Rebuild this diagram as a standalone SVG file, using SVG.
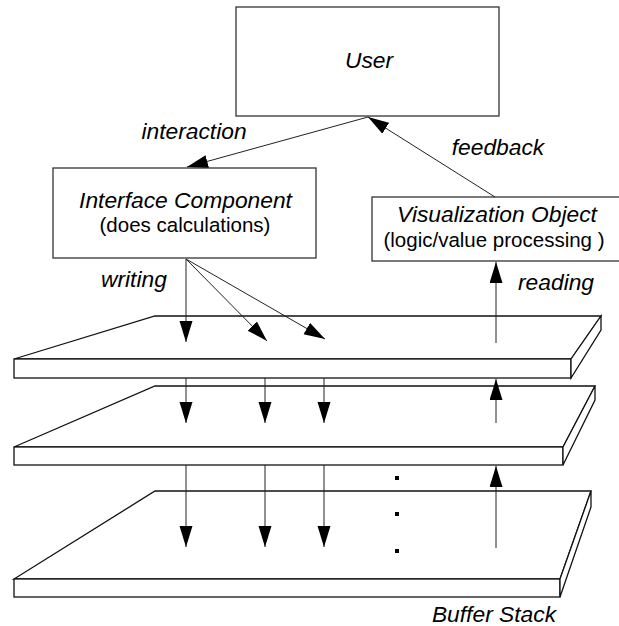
<svg xmlns="http://www.w3.org/2000/svg" width="619" height="626" viewBox="0 0 619 626">
<style>
.box{fill:#fff;stroke:#333;stroke-width:1.3}
.plate{fill:#fff;stroke:#111;stroke-width:1.3;stroke-linejoin:miter}
.t{font-family:"Liberation Sans",Arial,sans-serif;fill:#000}
.it{font-style:italic;font-size:22.8px}
.rg{font-size:20.5px}
.c{stroke:#222;stroke-width:1;fill:none}
</style>
<defs>
<marker id="ah" markerUnits="userSpaceOnUse" markerWidth="22" markerHeight="14" refX="21" refY="6.5" orient="auto">
<path d="M0,0 L21,6.5 L0,13 z" fill="#000"/>
</marker>
</defs>
<rect width="619" height="626" fill="#fff"/>
<g id="buffer3">
<polygon class="plate" points="155,491 591,491 560,579 14,579"/>
<rect class="plate" x="14" y="579" width="546" height="18"/>
<polygon class="plate" points="560,579 591,491 591,507 560,597"/>
</g>
<g id="buffer2">
<polygon class="plate" points="155,386 595,386 563,447 14,447"/>
<rect class="plate" x="14" y="447" width="549" height="18"/>
<polygon class="plate" points="563,447 595,386 595,400 563,465"/>
</g>
<g id="buffer1">
<polygon class="plate" points="155,316 601,316 571,359 14,359"/>
<rect class="plate" x="14" y="359" width="557" height="19"/>
<polygon class="plate" points="571,359 601,316 601,330 571,378"/>
</g>
<g id="user">
<rect class="box" x="236" y="7" width="263" height="109"/>
<text class="t it" x="369" y="68" text-anchor="middle">User</text>
</g>
<g id="interface">
<rect class="box" x="53" y="168" width="263" height="90"/>
<text class="t it" x="185.5" y="208" text-anchor="middle">Interface Component</text>
<text class="t rg" x="185" y="232" text-anchor="middle">(does calculations)</text>
</g>
<g id="visualization">
<rect class="box" x="372" y="197" width="250" height="64"/>
<text class="t it" x="497" y="222" text-anchor="middle">Visualization Object</text>
<text class="t rg" x="494" y="247" text-anchor="middle">(logic/value processing )</text>
</g>
<g id="dots" fill="#000">
<rect x="395" y="476" width="4" height="4"/>
<rect x="395" y="512" width="4" height="4"/>
<rect x="395" y="549" width="4" height="4"/>
</g>
<g id="connectors">
<line class="c" x1="368" y1="117" x2="187" y2="167" marker-end="url(#ah)"/>
<line class="c" x1="495" y1="197" x2="368" y2="117" marker-end="url(#ah)"/>
<line class="c" x1="186" y1="259" x2="186" y2="342" marker-end="url(#ah)"/>
<line class="c" x1="186" y1="259" x2="267" y2="341" marker-end="url(#ah)"/>
<line class="c" x1="186" y1="259" x2="325" y2="339" marker-end="url(#ah)"/>
<line class="c" x1="186" y1="378" x2="186" y2="423" marker-end="url(#ah)"/>
<line class="c" x1="265" y1="378" x2="265" y2="423" marker-end="url(#ah)"/>
<line class="c" x1="324" y1="378" x2="324" y2="423" marker-end="url(#ah)"/>
<line class="c" x1="186" y1="465" x2="186" y2="547" marker-end="url(#ah)"/>
<line class="c" x1="265" y1="465" x2="265" y2="547" marker-end="url(#ah)"/>
<line class="c" x1="324" y1="465" x2="324" y2="547" marker-end="url(#ah)"/>
<line class="c" x1="496" y1="548" x2="496" y2="466" marker-end="url(#ah)"/>
<line class="c" x1="496" y1="423" x2="496" y2="379" marker-end="url(#ah)"/>
<line class="c" x1="496" y1="343" x2="496" y2="262" marker-end="url(#ah)"/>
</g>
<g id="labels">
<text class="t it" x="194" y="139" text-anchor="middle">interaction</text>
<text class="t it" x="498" y="155" text-anchor="middle">feedback</text>
<text class="t it" x="101" y="287">writing</text>
<text class="t it" x="518" y="290">reading</text>
<text class="t it" x="494" y="622" text-anchor="middle">Buffer Stack</text>
</g>
</svg>
